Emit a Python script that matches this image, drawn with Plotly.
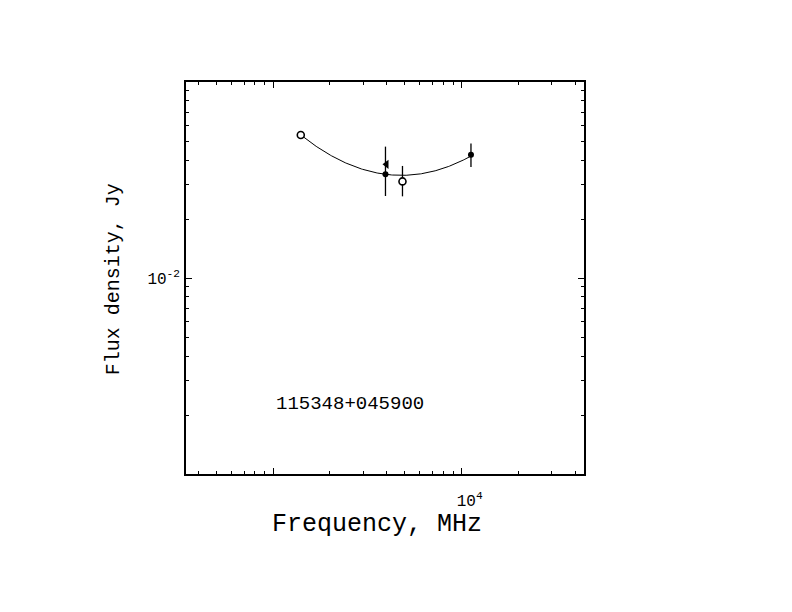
import numpy as np
import plotly.graph_objects as go

# ---- data ----
open_freq = [1400, 4850]           # MHz, open circles
open_flux = [0.0537, 0.0311]       # Jy
open_err_plus = [0.0, 0.0062]
open_err_minus = [0.0, 0.0050]

filled_freq = [3940, 11200]        # MHz, filled points
filled_flux = [0.0338, 0.0425]
filled_err_plus = [0.0130, 0.0061]
filled_err_minus = [0.0076, 0.0057]

tri_freq = [3990]                  # MHz, triangle marker
tri_flux = [0.0380]

# points the fitted curve passes through
fit_freq = [1400, 3940, 11200]
fit_flux = [0.0537, 0.0338, 0.0419]

x_major = [1000, 10000]
x_major_text = ["", "10<sup>4</sup>"]
x_minor = [400, 500, 600, 700, 800, 900, 2000, 3000, 4000, 5000, 6000, 7000,
           8000, 9000, 20000, 30000, 40000]
y_major = [0.01]
y_major_text = ["10<sup>-2</sup>"]
y_minor = [0.002, 0.003, 0.004, 0.005, 0.006, 0.007, 0.008, 0.009,
           0.02, 0.03, 0.04, 0.05, 0.06, 0.07, 0.08, 0.09]

source_name = "115348+045900"
x_title = "Frequency, MHz"
y_title = "Flux density, Jy"

# ---- fitted curve (quadratic in log-log space) ----
coef = np.polyfit(np.log10(fit_freq), np.log10(fit_flux), 2)
lx = np.linspace(np.log10(fit_freq[0]), np.log10(fit_freq[-1]), 200)
curve_freq = 10 ** lx
curve_flux = 10 ** np.polyval(coef, lx)

FONT = "Liberation Mono"

fig = go.Figure()
fig.add_trace(go.Scatter(x=curve_freq, y=curve_flux, mode="lines",
                         line=dict(color="black", width=1), showlegend=False,
                         hoverinfo="skip"))
fig.add_trace(go.Scatter(
    x=filled_freq, y=filled_flux, mode="markers",
    marker=dict(symbol="circle", size=6, color="black"),
    error_y=dict(type="data", symmetric=False, array=filled_err_plus,
                 arrayminus=filled_err_minus, width=0, thickness=1.3, color="black"),
    showlegend=False))
fig.add_trace(go.Scatter(
    x=open_freq, y=open_flux, mode="markers",
    marker=dict(symbol="circle", size=7, color="white",
                line=dict(color="black", width=1.6)),
    error_y=dict(type="data", symmetric=False, array=open_err_plus,
                 arrayminus=open_err_minus, width=0, thickness=1.3, color="black"),
    showlegend=False))
fig.add_trace(go.Scatter(
    x=tri_freq, y=tri_flux, mode="markers",
    marker=dict(symbol="triangle-left", size=8, color="black"),
    showlegend=False))

axis_common = dict(showline=True, linecolor="black", linewidth=1.5, mirror="allticks",
                   ticks="inside", ticklen=6, tickwidth=1, tickcolor="black",
                   showgrid=False, zeroline=False,
                   tickfont=dict(family=FONT, size=16, color="black"))

fig.update_xaxes(type="log", range=[2.537, 4.649], tickvals=x_major, ticktext=x_major_text,
                 minor=dict(tickvals=x_minor, ticks="inside", ticklen=3, tickcolor="black",
                            showgrid=False),
                 ticklabelshift=8, ticklabelstandoff=11, **axis_common)
fig.update_yaxes(type="log", range=[-3, -1], tickvals=y_major, ticktext=y_major_text,
                 minor=dict(tickvals=y_minor, ticks="inside", ticklen=3, tickcolor="black",
                            showgrid=False),
                 ticklabelstandoff=1, **axis_common)

fig.add_annotation(text=source_name, xref="paper", yref="paper", x=0.412, y=0.1786,
                   xanchor="center", yanchor="middle",
                   showarrow=False, font=dict(family=FONT, size=19, color="black"))
fig.add_annotation(text=x_title, xref="paper", yref="paper", x=0.4795, y=-0.1276,
                   xanchor="center", yanchor="middle",
                   showarrow=False, font=dict(family=FONT, size=25, color="black"))
fig.add_annotation(text=y_title, xref="paper", yref="paper", x=-0.183, y=0.497,
                   xanchor="center", yanchor="middle",
                   textangle=-90, showarrow=False,
                   font=dict(family=FONT, size=20, color="black"))

# the page adds an 8px body margin, so the figure margins are reduced accordingly
fig.update_layout(width=792, height=612, paper_bgcolor="white", plot_bgcolor="white",
                  margin=dict(l=178, r=216, t=74, b=146), showlegend=False)

fig.write_html("out.html")
